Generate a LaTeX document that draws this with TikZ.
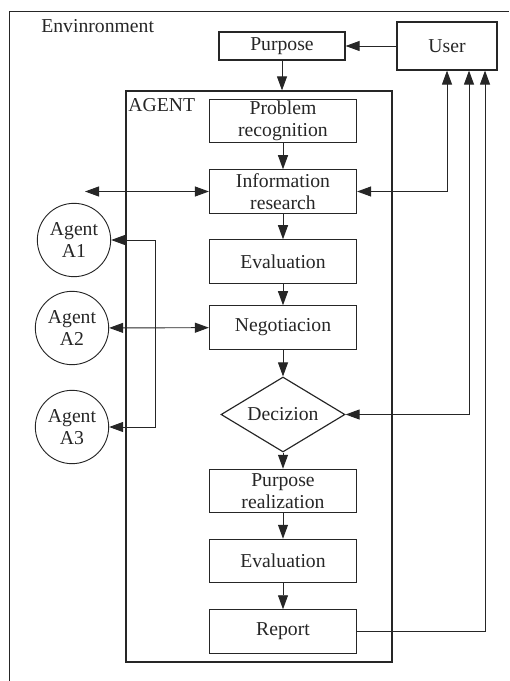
\documentclass[tikz,border=0pt]{standalone}
\usepackage{fontspec}
\setmainfont{Liberation Serif}
\usepackage{tikz}
\usetikzlibrary{arrows.meta,shapes.geometric}
\pgfkeys{/pixel/.code=\tikzset{x={(0.03cm,0cm)},y={(0cm,-0.03cm)}}}

\begin{document}
\begin{tikzpicture}[/pixel, line width=.8pt, draw=black!85,
 every node/.style={font=\fontsize{16.8}{19}\selectfont, text=black!85},
 box/.style={draw, line width=1pt, minimum width=4.41cm, minimum height=1.3cm, align=center, inner sep=1pt},
 agt/.style={draw, circle, minimum size=2.2cm, inner sep=0pt, align=center},
 tip/.tip={Triangle[length=.42cm,width=.3cm]},
 arr/.style={-tip},
 darr/.style={tip-tip}]
\useasboundingbox (0,0) rectangle (509,681);
\draw (9,681) -- (9,11) -- (509,11);
\node[anchor=base west] (env) at (37,33) {Envinronment};

\node[draw, line width=1pt, minimum width=7.98cm, minimum height=17.13cm] (agent) at (259,376.5) {};
\node[anchor=base west, inner sep=0pt] (agentlabel) at (128,112) {AGENT};

\node[box, minimum width=3.78cm, minimum height=.84cm] (purpose) at (282,46) {Purpose};
\node[box, minimum width=3cm, minimum height=1.44cm] (user) at (447,46) {User};

\node[box] (prob) at (283,121) {Problem\\recognition};
\node[box] (info) at (283,191.5) {Information\\research};
\node[box] (eval) at (283,261.5) {Evaluation};
\node[box] (nego) at (283,327.5) {Negotiacion};
\node[draw, line width=1pt, diamond, aspect=1.65, minimum width=3.72cm, minimum height=2.25cm, inner sep=1pt] (dec) at (283,414.5) {Decizion};
\node[box] (real) at (283,491) {Purpose\\realization};
\node[box] (evaltwo) at (283,561) {Evaluation};
\node[box] (report) at (283,631.5) {Report};

\node[agt] (aone) at (74,240) {Agent\\A1};
\node[agt] (atwo) at (72,328) {Agent\\A2};
\node[agt] (athree) at (72,427) {Agent\\A3};

\draw[arr] (user) -- (purpose);
\draw[arr] (purpose) -- (purpose |- agent.north);
\foreach \a/\b in {prob/info,info/eval,eval/nego,nego/dec,dec/real,real/evaltwo,evaltwo/report}
 \draw[arr] (\a) -- (\b);

\coordinate (ext) at (85,191.5);
\draw[darr] (ext) -- (info);
\draw[darr] (atwo) -- (nego);
\coordinate (fork) at (155,328);
\draw[arr] (fork) |- (aone);
\draw[arr] (fork) |- (athree);

\coordinate (ua) at ([xshift=.66cm]user.south);
\coordinate (ub) at ([xshift=1.14cm]user.south);
\draw[darr] (info) -| (user);
\draw[darr] (dec) -| (ua);
\draw[arr] (report) -| (ub);
\end{tikzpicture}
\end{document}
